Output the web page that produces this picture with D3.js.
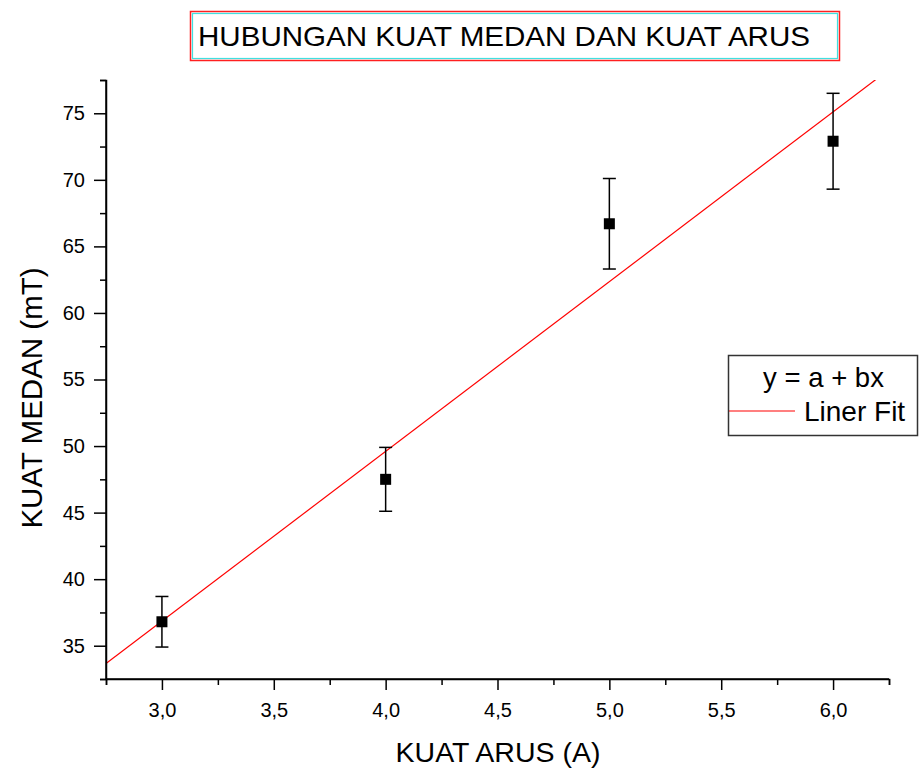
<!DOCTYPE html>
<html>
<head>
<meta charset="utf-8">
<script src="https://cdn.jsdelivr.net/npm/d3@7"></script>
<style>
  body { margin: 0; background: #fff; }
  svg { display: block; }
  text { font-family: "Liberation Sans", Arial, sans-serif; fill: #000; }
</style>
</head>
<body>
<svg id="chart" width="920" height="770"></svg>
<script>
// ---- data ----
const current = [3.0, 4.0, 5.0, 6.0];            // KUAT ARUS (A)
const field   = [36.8, 47.5, 66.7, 72.9];        // KUAT MEDAN (mT)
const fieldErr = [1.9, 2.4, 3.4, 3.6];           // error bar half-heights
const xTicks = [3.0, 3.5, 4.0, 4.5, 5.0, 5.5, 6.0];
const yTicks = [35, 40, 45, 50, 55, 60, 65, 70, 75];
const titleText = "HUBUNGAN KUAT MEDAN DAN KUAT ARUS";
const xLabel = "KUAT ARUS (A)";
const yLabel = "KUAT MEDAN (mT)";
const legendTitle = "y = a + bx";
const legendFit = "Liner Fit";

// ---- linear least-squares fit ----
const n = current.length;
const mx = d3.mean(current), my = d3.mean(field);
let sxy = 0, sxx = 0;
for (let i = 0; i < n; i++) { sxy += (current[i]-mx)*(field[i]-my); sxx += (current[i]-mx)**2; }
const slope = sxy / sxx, intercept = my - slope * mx;

const svg = d3.select("#chart");
const L = 106, R = 889, T = 80, B = 679;
const x = d3.scaleLinear().domain([2.75, 6.25]).range([L, R]);
const y = d3.scaleLinear().domain([32.5, 77.5]).range([B, T]);

svg.append("defs").append("clipPath").attr("id", "clip")
  .append("rect").attr("x", L).attr("y", T).attr("width", R - L).attr("height", B - T);

// fit line
const fitX = x.domain();
svg.append("line")
  .attr("clip-path", "url(#clip)")
  .attr("x1", x(fitX[0])).attr("y1", y(intercept + slope * fitX[0]))
  .attr("x2", x(fitX[1])).attr("y2", y(intercept + slope * fitX[1]))
  .attr("stroke", "#ff0000").attr("stroke-width", 1.2);

// axes
const fmtComma = d => d3.format(".1f")(d).replace(".", ",");
const xAxis = d3.axisBottom(x).tickValues(xTicks).tickFormat(fmtComma).tickSize(11).tickPadding(13);
const xMinor = d3.axisBottom(x).tickValues(d3.range(2.75, 6.26, 0.5)).tickFormat("").tickSize(6);
const yAxis = d3.axisLeft(y).tickValues(yTicks).tickSize(12).tickPadding(9);
const yMinor = d3.axisLeft(y).tickValues(d3.range(32.5, 77.6, 5)).tickFormat("").tickSize(6);

function styleAxis(g) {
  g.select(".domain").attr("stroke", "#000").attr("stroke-width", 1.5);
  g.selectAll(".tick line").attr("stroke", "#000").attr("stroke-width", 1.5);
  g.selectAll(".tick text").style("font-size", "20px").style("font-family", "Liberation Sans, Arial, sans-serif").attr("fill", "#000");
}
svg.append("g").attr("transform", `translate(0,${B})`).call(xMinor).call(styleAxis);
svg.append("g").attr("transform", `translate(0,${B})`).call(xAxis).call(styleAxis)
  .select(".domain").attr("d", `M${L},0H${R}`);
svg.append("g").attr("transform", `translate(${L},0)`).call(yMinor).call(styleAxis);
svg.append("g").attr("transform", `translate(${L},0)`).call(yAxis).call(styleAxis)
  .select(".domain").attr("d", `M0,${T}V${B}`);

// error bars
const eb = svg.append("g").attr("stroke", "#000").attr("stroke-width", 1.5);
current.forEach((cx, i) => {
  const px = x(cx), yt = y(field[i] + fieldErr[i]), yb = y(field[i] - fieldErr[i]);
  eb.append("line").attr("x1", px).attr("x2", px).attr("y1", yt).attr("y2", yb);
  eb.append("line").attr("x1", px - 6.5).attr("x2", px + 6.5).attr("y1", yt).attr("y2", yt);
  eb.append("line").attr("x1", px - 6.5).attr("x2", px + 6.5).attr("y1", yb).attr("y2", yb);
});

// markers
svg.append("g").selectAll("rect").data(current).join("rect")
  .attr("x", (d) => x(d) - 5.5)
  .attr("y", (d, i) => y(field[i]) - 5.5)
  .attr("width", 11).attr("height", 11).attr("fill", "#000");

// axis titles
svg.append("text").attr("x", 498).attr("y", 762)
  .attr("text-anchor", "middle").style("font-size", "28.5px").text(xLabel);
svg.append("text").attr("transform", `translate(42,398) rotate(-90)`)
  .attr("text-anchor", "middle").style("font-size", "29.5px").text(yLabel);

// title box
svg.append("rect").attr("x", 190.5).attr("y", 11.5).attr("width", 649).attr("height", 49)
  .attr("fill", "none").attr("stroke", "#ff2020").attr("stroke-width", 1.5);
svg.append("rect").attr("x", 192.5).attr("y", 13.5).attr("width", 645).attr("height", 45)
  .attr("fill", "none").attr("stroke", "#40e0e0").attr("stroke-width", 1.2);
svg.append("text").attr("x", 198).attr("y", 46).style("font-size", "28px")
  .attr("textLength", 612).attr("lengthAdjust", "spacingAndGlyphs").text(titleText);

// legend
svg.append("rect").attr("x", 728.5).attr("y", 355.5).attr("width", 189).attr("height", 80)
  .attr("fill", "#fff").attr("stroke", "#333").attr("stroke-width", 1.5);
svg.append("text").attr("x", 823.5).attr("y", 387).attr("text-anchor", "middle")
  .style("font-size", "27.5px").text(legendTitle);
svg.append("line").attr("x1", 729).attr("x2", 795).attr("y1", 411).attr("y2", 411)
  .attr("stroke", "#ff0000").attr("stroke-width", 1.2);
svg.append("text").attr("x", 804).attr("y", 421).style("font-size", "28px").text(legendFit);
</script>
</body>
</html>
